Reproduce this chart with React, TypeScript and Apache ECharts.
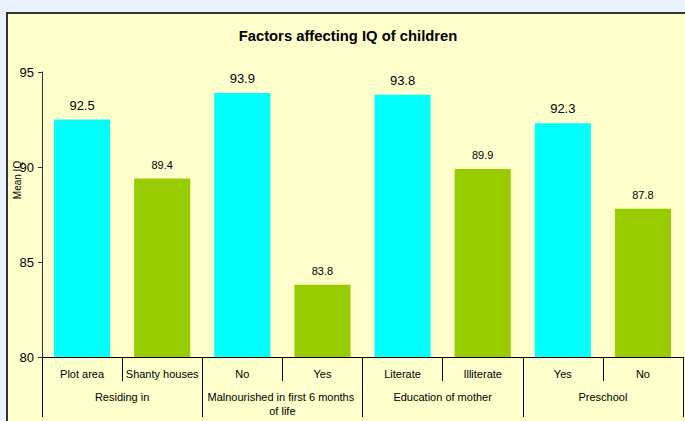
import React, { useEffect, useRef } from "react";
import * as echarts from "echarts";

const categories = ["Plot area", "Shanty houses", "No", "Yes", "Literate", "Illiterate", "Yes", "No"];
const groups = ["Residing in", "Malnourished in first 6 months of life", "Education of mother", "Preschool"];
const values = [92.5, 89.4, 93.9, 83.8, 93.8, 89.9, 92.3, 87.8];
const colors = ["#00FFFF", "#99CC00", "#00FFFF", "#99CC00", "#00FFFF", "#99CC00", "#00FFFF", "#99CC00"];
const labelSizes = [13, 11, 13, 11, 13, 11, 13, 11];
const yTicks = { min: 80, max: 95, interval: 5 };

const FONT = "Arial, 'Liberation Sans', sans-serif";

export default function App() {
  const ref = useRef<HTMLDivElement>(null);
  useEffect(() => {
    document.body.style.margin = "0";
    document.body.style.overflow = "hidden";
    document.body.style.background = "#EAF1FE";
    const chart = echarts.init(ref.current!, null, { renderer: "svg" });
    chart.setOption({
      animation: false,
      backgroundColor: "#FFFFCC",
      title: {
        text: "Factors affecting IQ of children",
        left: 335,
        top: 9,
        textAlign: "center",
        textStyle: { fontFamily: FONT, fontSize: 14.8, fontWeight: "bold", color: "#000" },
      },
      graphic: [
        {
          type: "text",
          x: 9,
          y: 166,
          rotation: Math.PI / 2,
          style: {
            text: "Mean IQ",
            fontFamily: FONT,
            fontSize: 10,
            fill: "#000",
            align: "center",
            verticalAlign: "middle",
          },
        },
      ],
      grid: { left: 34, top: 58, right: 25, bottom: 64, containLabel: false },
      xAxis: [
        {
          type: "category",
          data: categories,
          position: "bottom",
          offset: 0,
          axisLine: { show: true, lineStyle: { color: "#000", width: 1 } },
          axisTick: { show: true, interval: 0, length: 24, lineStyle: { color: "#000" } },
          axisLabel: { interval: 0, margin: 11, fontFamily: FONT, fontSize: 11, color: "#000" },
        },
        {
          type: "category",
          data: groups,
          position: "bottom",
          offset: 0,
          axisLine: { show: false },
          axisTick: { show: true, interval: 0, length: 60, lineStyle: { color: "#000" } },
          axisLabel: {
            interval: 0,
            margin: 33,
            fontFamily: FONT,
            fontSize: 11,
            color: "#000",
            width: 156,
            overflow: "break",
            lineHeight: 14,
            verticalAlign: "top",
          },
        },
      ],
      yAxis: {
        type: "value",
        min: yTicks.min,
        max: yTicks.max,
        interval: yTicks.interval,
        splitLine: { show: false },
        axisLine: { show: true, lineStyle: { color: "#333" } },
        axisTick: { show: true, length: 4, lineStyle: { color: "#333" } },
        axisLabel: { fontFamily: FONT, fontSize: 13, color: "#000", margin: 8 },
      },
      series: [
        {
          type: "bar",
          xAxisIndex: 0,
          barWidth: "70%",
          data: values.map((v, i) => ({
            value: v,
            itemStyle: { color: colors[i] },
            label: { fontSize: labelSizes[i] },
          })),
          label: {
            show: true,
            position: "top",
            distance: 8,
            fontFamily: FONT,
            color: "#000",
            formatter: (p: any) => p.value.toFixed(1),
          },
        },
      ],
    });
    return () => chart.dispose();
  }, []);
  return (
    <div
      style={{
        position: "absolute",
        left: 6,
        top: 12,
        width: 700,
        height: 430,
        border: "2px solid #333",
        background: "#FFFFCC",
      }}
    >
      <div ref={ref} style={{ width: 700, height: 407 }} />
    </div>
  );
}
